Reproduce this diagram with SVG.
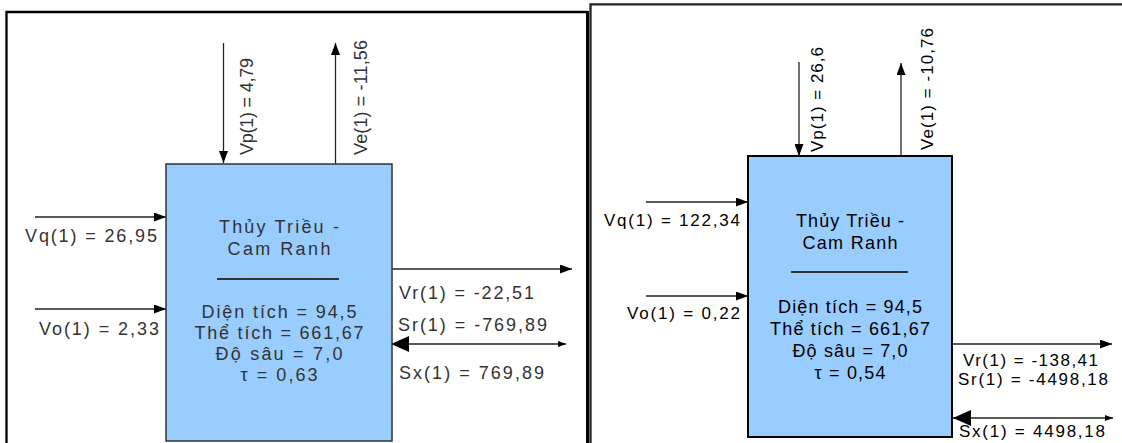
<svg xmlns="http://www.w3.org/2000/svg" width="1122" height="443" viewBox="0 0 1122 443">
<style>
text{font-family:"Liberation Sans",Arial,sans-serif;}
.l{font-size:18px;fill:#333;}
.r{font-size:17px;fill:#000;}
.bl{font-size:18px;fill:#333;text-anchor:middle;}
.br{font-size:18px;fill:#000;text-anchor:middle;}
.box{fill:#99CCFF;}
.cn{stroke:#222;stroke-width:1.3;fill:none;}
.sep{stroke:#333;stroke-width:2;}
</style>
<defs>
<marker id="ah" viewBox="0 0 12 9" refX="12" refY="4.5" markerWidth="12" markerHeight="9" markerUnits="userSpaceOnUse" orient="auto"><path d="M0,0 L12,4.5 L0,9 z" fill="#000"/></marker>
<marker id="big" viewBox="0 0 18 16" refX="18" refY="8" markerWidth="18" markerHeight="16" markerUnits="userSpaceOnUse" orient="auto-start-reverse"><path d="M0,0 L18,8 L0,16 z" fill="#000"/></marker>
<marker id="sm" viewBox="0 0 8 6" refX="8" refY="3" markerWidth="8" markerHeight="6" markerUnits="userSpaceOnUse" orient="auto"><path d="M0,0 L8,3 L0,6 z" fill="#000"/></marker>
</defs>
<rect width="1122" height="443" fill="#fff"/>
<g id="frames">
<path d="M6.5,443 V12 H588" fill="none" stroke="#000" stroke-width="2.3"/>
<line x1="587.5" y1="11" x2="587.5" y2="443" stroke="#000" stroke-width="3"/>
<path d="M590.5,443 V4.3 H1122" fill="none" stroke="#222" stroke-width="2.3"/>
</g>
<g id="connectors">
<line class="cn" x1="223.5" y1="43" x2="223.5" y2="163" marker-end="url(#ah)"/>
<line class="cn" x1="335.5" y1="164" x2="335.5" y2="43" marker-end="url(#ah)"/>
<line class="cn" x1="35" y1="217" x2="166" y2="217" marker-end="url(#ah)"/>
<line class="cn" x1="35" y1="309" x2="166" y2="309" marker-end="url(#ah)"/>
<line class="cn" x1="392" y1="269" x2="572" y2="269" marker-end="url(#ah)"/>
<line class="cn" x1="391" y1="344" x2="566" y2="344" marker-start="url(#big)" marker-end="url(#sm)"/>
<line class="cn" x1="799" y1="62" x2="799" y2="156" marker-end="url(#ah)"/>
<line class="cn" x1="901" y1="156" x2="901" y2="63" marker-end="url(#ah)"/>
<line class="cn" x1="646" y1="202" x2="748" y2="202" marker-end="url(#ah)"/>
<line class="cn" x1="646" y1="296" x2="748" y2="296" marker-end="url(#ah)"/>
<line class="cn" x1="952" y1="344" x2="1112" y2="344" marker-end="url(#ah)"/>
<line class="cn" x1="953" y1="418" x2="1113" y2="418" marker-start="url(#big)" marker-end="url(#sm)"/>
</g>
<g id="node-left">
<rect class="box" x="166" y="164" width="226" height="277" stroke="#333" stroke-width="1.5"/>
<text class="bl" x="279" y="233" textLength="120">Thủy Triều -</text>
<text class="bl" x="279" y="255" textLength="103">Cam Ranh</text>
<line class="sep" x1="217" y1="279" x2="339" y2="279"/>
<text class="bl" x="279" y="318" textLength="155">Diện tích = 94,5</text>
<text class="bl" x="279" y="339" textLength="169">Thể tích = 661,67</text>
<text class="bl" x="279" y="360" textLength="127">Độ sâu = 7,0</text>
<text class="bl" x="279" y="381" textLength="77">τ = 0,63</text>
</g>
<g id="labels-left">
<text class="l" transform="translate(253,155) rotate(-90)" textLength="97">Vp(1) = 4,79</text>
<text class="l" transform="translate(367,155) rotate(-90)" textLength="115">Ve(1) = -11,56</text>
<text class="l" x="25" y="242" textLength="132">Vq(1) = 26,95</text>
<text class="l" x="39" y="335" textLength="120">Vo(1) = 2,33</text>
<text class="l" x="399" y="299" textLength="135">Vr(1) = -22,51</text>
<text class="l" x="398" y="331" textLength="149">Sr(1) = -769,89</text>
<text class="l" x="399" y="379" textLength="145">Sx(1) = 769,89</text>
</g>
<g id="node-right">
<rect class="box" x="748" y="156" width="204" height="281" stroke="#000" stroke-width="2"/>
<text class="br" x="850" y="227" textLength="108">Thủy Triều -</text>
<text class="br" x="850" y="249" textLength="95">Cam Ranh</text>
<line class="sep" x1="791" y1="272" x2="908" y2="272" stroke="#000"/>
<text class="br" x="850" y="313" textLength="144">Diện tích = 94,5</text>
<text class="br" x="850" y="335" textLength="160">Thể tích = 661,67</text>
<text class="br" x="850" y="357" textLength="115">Độ sâu = 7,0</text>
<text class="br" x="850" y="379" textLength="71">τ = 0,54</text>
</g>
<g id="labels-right">
<text class="r" transform="translate(823,152) rotate(-90)" textLength="105">Vp(1) = 26,6</text>
<text class="r" transform="translate(933,150) rotate(-90)" textLength="122">Ve(1) = -10,76</text>
<text class="r" x="604" y="226" textLength="136">Vq(1) = 122,34</text>
<text class="r" x="627" y="319" textLength="113">Vo(1) = 0,22</text>
<text class="r" x="963" y="366" textLength="135">Vr(1) = -138,41</text>
<text class="r" x="958" y="385" textLength="150">Sr(1) = -4498,18</text>
<text class="r" x="959" y="437" textLength="146">Sx(1) = 4498,18</text>
</g>
</svg>
